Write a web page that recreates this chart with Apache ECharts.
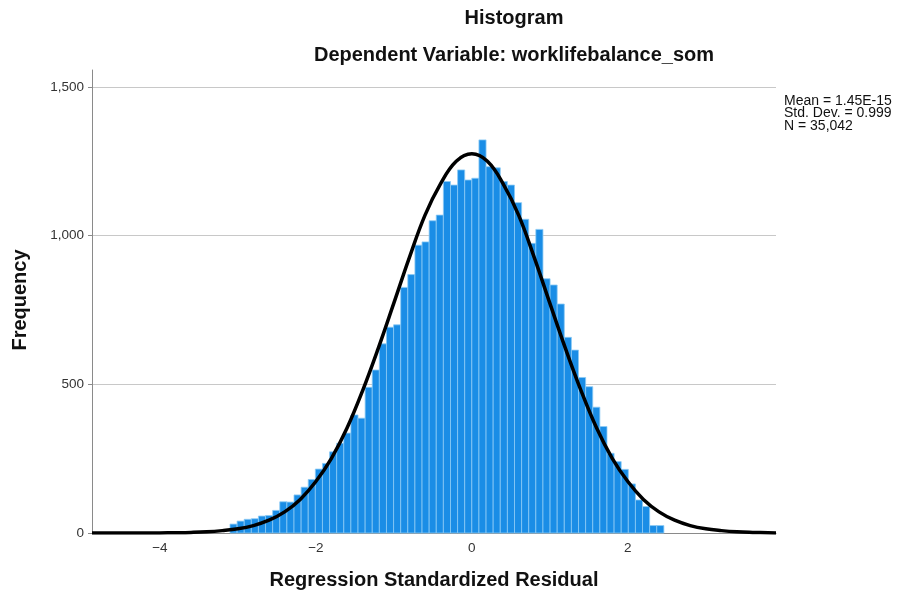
<!DOCTYPE html>
<html>
<head>
<meta charset="utf-8">
<script src="https://cdn.jsdelivr.net/npm/echarts@6/dist/echarts.min.js"></script>
<style>
  html, body { margin: 0; padding: 0; background: #ffffff; }
  #chart { width: 900px; height: 596px; }
</style>
</head>
<body>
<div id="chart"></div>
<script>
// Histogram of regression standardized residuals
const binStart = -3.1008;   // lower edge of the first bin
const binWidth = 0.0912;    // width of each bin
const counts = [
  30, 40, 46, 48, 57, 59, 76, 105, 104, 128,
  154, 180, 215, 234, 273, 302, 336, 397, 386, 490,
  548, 636, 692, 700, 826, 869, 968, 979, 1050, 1069,
  1182, 1170, 1221, 1187, 1193, 1322, 1232, 1228, 1182, 1170,
  1111, 1055, 974, 1021, 855, 834, 770, 658, 615, 523,
  492, 423, 358, 268, 240, 214, 165, 111, 89, 25,
  25
];

// Normal reference curve (expected frequency per bin)
const curveX = [
  -4.87, -4.6, -4.4, -4.2, -4.0, -3.8, -3.6, -3.4, -3.2, -3.0,
  -2.8, -2.6, -2.4, -2.2, -2.0, -1.8, -1.6, -1.4, -1.2, -1.0,
  -0.8, -0.6, -0.4, -0.2, 0.0, 0.2, 0.4, 0.6, 0.8, 1.0,
  1.2, 1.4, 1.6, 1.8, 2.0, 2.2, 2.4, 2.6, 2.8, 3.0,
  3.2, 3.4, 3.6, 3.9
];
const curveY = [
  0, 0, 0, 0, 0.4, 1, 2, 4, 8, 14,
  25, 43, 71, 113, 173, 251, 353, 479, 621, 773,
  927, 1069, 1175, 1250, 1275, 1250, 1175, 1069, 927, 773,
  621, 479, 353, 251, 173, 113, 71, 43, 25, 14,
  8, 4, 2, 0
];

const xRange = [-4.87, 3.9];
const yRange = [0, 1557];
const yStep = 500;

const titleLines = ['Histogram', 'Dependent Variable: worklifebalance_som'];
const statLines = ['Mean = 1.45E-15', 'Std. Dev. = 0.999', 'N = 35,042'];
const xName = 'Regression Standardized Residual';
const yName = 'Frequency';

const FONT = "'Liberation Sans', Arial, sans-serif";

const binData = counts.map((c, i) => [binStart + i * binWidth, binStart + (i + 1) * binWidth, c]);
const curveData = curveX.map((x, i) => [x, curveY[i]]);

const chart = echarts.init(document.getElementById('chart'), null, { renderer: 'canvas' });

chart.setOption({
  animation: false,
  backgroundColor: '#ffffff',
  grid: { left: 92, right: 124, top: 70, bottom: 63, containLabel: false },
  xAxis: {
    type: 'value',
    min: xRange[0],
    max: xRange[1],
    splitNumber: 5,
    axisLine: { show: true, onZero: false, lineStyle: { color: '#8a8a8a', width: 1 } },
    axisTick: { show: false },
    splitLine: { show: false },
    axisLabel: {
      showMinLabel: false,
      showMaxLabel: false,
      color: '#333333',
      fontFamily: FONT,
      fontSize: 13.5,
      margin: 8,
      formatter: v => (v < 0 ? '\u2212' + Math.abs(v) : String(v))
    }
  },
  yAxis: {
    type: 'value',
    min: yRange[0],
    max: yRange[1],
    interval: yStep,
    axisLine: { show: true, onZero: false, lineStyle: { color: '#8a8a8a', width: 1 } },
    axisTick: { show: true, length: 4, lineStyle: { color: '#8a8a8a' } },
    splitLine: { show: true, showMinLine: false, showMaxLine: false, lineStyle: { color: '#c8c8c8', width: 1 } },
    axisLabel: {
      showMaxLabel: false,
      color: '#333333',
      fontFamily: FONT,
      fontSize: 13.5,
      margin: 8,
      formatter: v => v.toLocaleString('en-US')
    }
  },
  series: [
    {
      type: 'custom',
      name: 'Residuals',
      data: binData,
      encode: { x: [0, 1], y: 2 },
      renderItem: (params, api) => {
        const lo = api.coord([api.value(0), api.value(2)]);
        const hi = api.coord([api.value(1), 0]);
        return {
          type: 'rect',
          shape: { x: lo[0], y: lo[1], width: hi[0] - lo[0], height: hi[1] - lo[1] },
          style: { fill: '#1a8de6', stroke: '#8ccaf5', lineWidth: 0.8 }
        };
      },
      z: 2
    },
    {
      type: 'line',
      name: 'Normal',
      data: curveData,
      smooth: 0.4,
      showSymbol: false,
      clip: true,
      lineStyle: { color: '#000000', width: 3.5 },
      z: 5
    }
  ],
  graphic: [
    { type: 'text', x: 514, y: 18, style: { text: titleLines[0], font: "bold 20px " + FONT, fill: '#111', align: 'center', verticalAlign: 'middle' } },
    { type: 'text', x: 514, y: 55, style: { text: titleLines[1], font: "bold 20px " + FONT, fill: '#111', align: 'center', verticalAlign: 'middle' } },
    { type: 'text', x: 434, y: 580, style: { text: xName, font: "bold 20px " + FONT, fill: '#111', align: 'center', verticalAlign: 'middle' } },
    { type: 'text', x: 20, y: 300, rotation: Math.PI / 2, style: { text: yName, font: "bold 20px " + FONT, fill: '#111', align: 'center', verticalAlign: 'middle' } },
    ...statLines.map((t, i) => ({
      type: 'text', x: 784, y: 101 + i * 12.5,
      style: { text: t, font: "14px " + FONT, fill: '#111', align: 'left', verticalAlign: 'middle' }
    }))
  ]
});
</script>
</body>
</html>
